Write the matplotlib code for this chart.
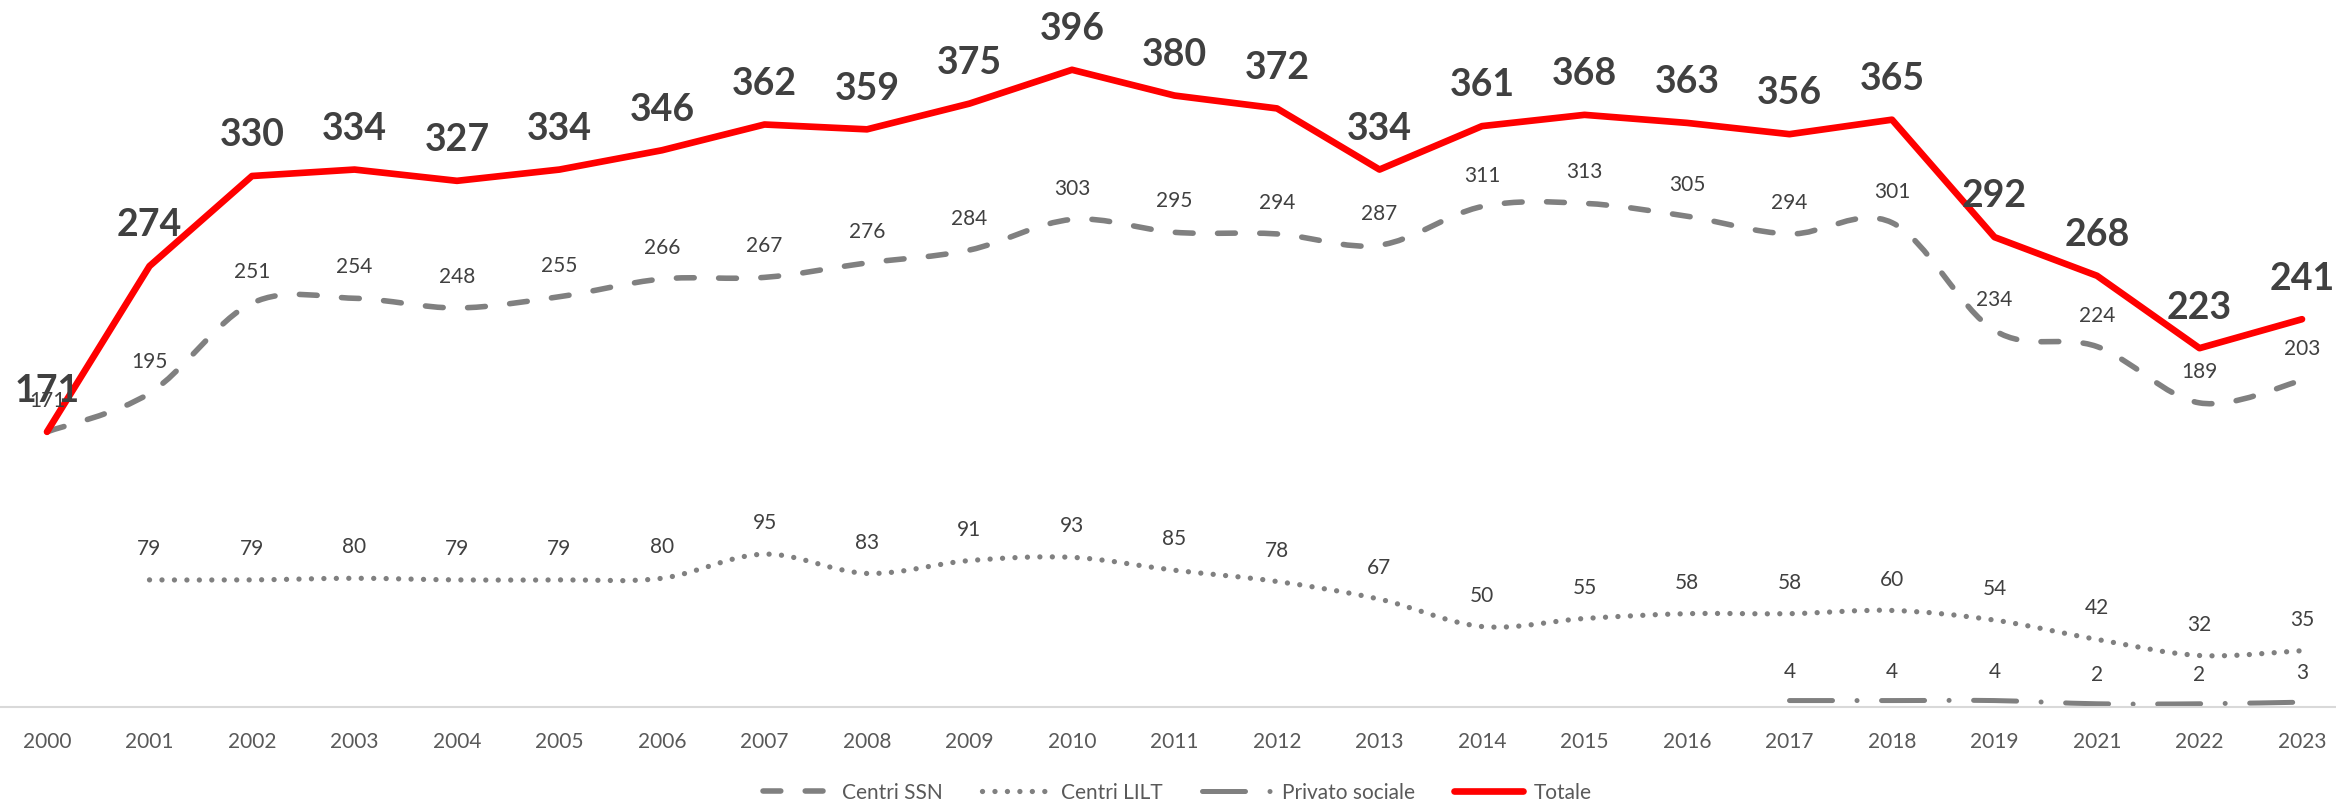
import numpy as np
import matplotlib
matplotlib.use("Agg")
import matplotlib.pyplot as plt
from matplotlib.path import Path
from matplotlib.patches import PathPatch
from matplotlib.lines import Line2D

years = ["2000", "2001", "2002", "2003", "2004", "2005", "2006", "2007", "2008",
         "2009", "2010", "2011", "2012", "2013", "2014", "2015", "2016", "2017",
         "2018", "2019", "2021", "2022", "2023"]

centri_ssn = [171, 195, 251, 254, 248, 255, 266, 267, 276, 284, 303, 295, 294,
              287, 311, 313, 305, 294, 301, 234, 224, 189, 203]
centri_lilt = [None, 79, 79, 80, 79, 79, 80, 95, 83, 91, 93, 85, 78, 67, 50,
               55, 58, 58, 60, 54, 42, 32, 35]
privato_sociale = [None] * 17 + [4, 4, 4, 2, 2, 3]
totale = [171, 274, 330, 334, 327, 334, 346, 362, 359, 375, 396, 380, 372,
          334, 361, 368, 363, 356, 365, 292, 268, 223, 241]

GRAY = "#808080"
RED = "#FF0000"
LABEL = "#404040"
TICK = "#595959"
FONT = ["Lato", "DejaVu Sans"]

plt.rcParams["font.family"] = FONT

W, H = 2336, 803
fig = plt.figure(figsize=(W / 100, H / 100), dpi=100)
step = 102.5
left_px = 47 - step / 2
ax = fig.add_axes([left_px / W, 95 / H, 23 * step / W, 708 / H])
ax.set_xlim(-0.5, len(years) - 0.5)
ax.set_ylim(0, 440)


def present(values):
    xs = np.array([i for i, v in enumerate(values) if v is not None], float)
    ys = np.array([v for v in values if v is not None], float)
    return xs, ys


def smooth_path(xs, ys):
    """Bezier path through the points, with Catmull-Rom style control points."""
    pts = np.column_stack([xs, ys])
    n = len(pts)
    verts = [pts[0]]
    codes = [Path.MOVETO]
    for i in range(n - 1):
        p0 = pts[i - 1] if i > 0 else pts[i]
        p1, p2 = pts[i], pts[i + 1]
        p3 = pts[i + 2] if i + 2 < n else pts[i + 1]
        verts += [p1 + (p2 - p0) / 6, p2 - (p3 - p1) / 6, p2]
        codes += [Path.CURVE4] * 3
    return Path(verts, codes)


styles = {
    "ssn": dict(color=GRAY, lw=4.0, ls=(0, (3.2, 4.4))),
    "lilt": dict(color=GRAY, lw=3.8, ls=(0, (0.01, 2.35))),
    "priv": dict(color=GRAY, lw=3.6, ls=(0, (8.6, 4.9, 0.01, 4.9))),
}

for key, values in (("ssn", centri_ssn), ("lilt", centri_lilt),
                    ("priv", privato_sociale)):
    xs, ys = present(values)
    st = styles[key]
    patch = PathPatch(smooth_path(xs, ys), fill=False, edgecolor=st["color"],
                      linewidth=st["lw"], linestyle=st["ls"], zorder=2)
    patch.set_capstyle("round")
    patch.set_joinstyle("round")
    ax.add_patch(patch)

xt, yt = present(totale)
ax.plot(xt, yt, color=RED, lw=4.8, solid_joinstyle="round",
        solid_capstyle="round", zorder=3)

# data labels
for values, off in ((centri_ssn, 23), (centri_lilt, 23), (privato_sociale, 21.5)):
    xs, ys = present(values)
    for x, y in zip(xs, ys):
        ax.annotate(f"{int(y)}", (x, y), xytext=(0, off), textcoords="offset points",
                    ha="center", va="center", fontsize=15, color=LABEL, zorder=4)
for x, y in zip(xt, yt):
    ax.annotate(f"{int(y)}", (x, y), xytext=(0, 30), textcoords="offset points",
                ha="center", va="center", fontsize=27, fontweight="bold",
                color=LABEL, zorder=5)

ax.set_xticks(range(len(years)))
ax.set_xticklabels(years, fontsize=15, color=TICK)
ax.tick_params(axis="x", length=0, pad=17)
ax.set_yticks([])
for s in ("left", "right", "top"):
    ax.spines[s].set_visible(False)
ax.spines["bottom"].set_color("#D9D9D9")
ax.spines["bottom"].set_linewidth(1.5)

handles = [
    Line2D([], [], color=GRAY, lw=styles["ssn"]["lw"], ls=styles["ssn"]["ls"],
           dash_capstyle="round"),
    Line2D([], [], color=GRAY, lw=styles["lilt"]["lw"], ls=styles["lilt"]["ls"],
           dash_capstyle="round"),
    Line2D([], [], color=GRAY, lw=styles["priv"]["lw"], ls=styles["priv"]["ls"],
           dash_capstyle="round"),
    Line2D([], [], color=RED, lw=4.8, solid_capstyle="round"),
]
leg = fig.legend(handles, ["Centri SSN", "Centri LILT", "Privato sociale", "Totale"],
                 loc="center", bbox_to_anchor=(1177 / W, 1 - 793 / H), ncol=4,
                 frameon=False, fontsize=15, handlelength=3.3, handletextpad=0.5,
                 columnspacing=1.9)
for t in leg.get_texts():
    t.set_color(TICK)

fig.savefig("out.png", dpi=100, facecolor="white")
